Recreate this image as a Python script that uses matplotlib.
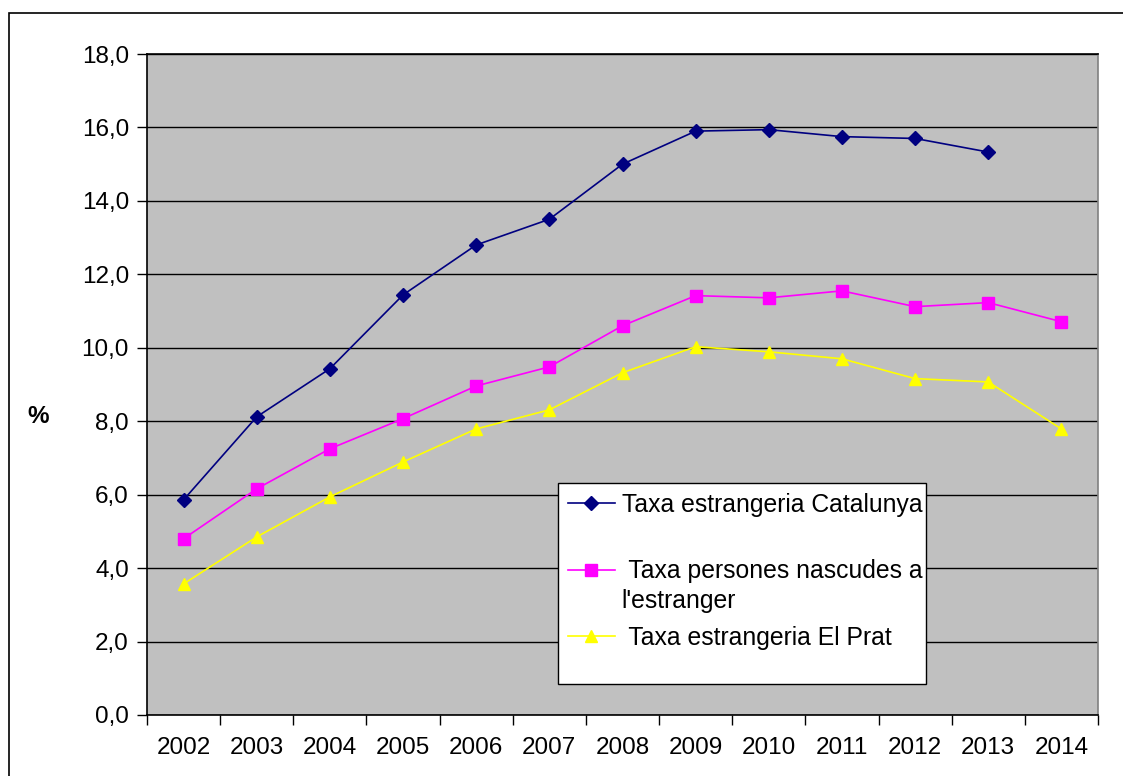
import numpy as np
import matplotlib.pyplot as plt
from matplotlib.patches import Rectangle
from matplotlib.ticker import FuncFormatter

plt.rcParams['font.family'] = ['Liberation Sans', 'DejaVu Sans']

years = ['2002', '2003', '2004', '2005', '2006', '2007', '2008',
         '2009', '2010', '2011', '2012', '2013', '2014']
catalunya = [5.86, 8.12, 9.43, 11.44, 12.80, 13.50, 15.00,
             15.90, 15.94, 15.75, 15.70, 15.33, np.nan]
nascudes = [4.80, 6.16, 7.25, 8.07, 8.96, 9.48, 10.60,
            11.42, 11.36, 11.55, 11.12, 11.23, 10.71]
elprat = [3.57, 4.85, 5.94, 6.89, 7.79, 8.31, 9.32,
          10.03, 9.89, 9.70, 9.16, 9.07, 7.79]
labels = ['Taxa estrangeria Catalunya',
          ' Taxa persones nascudes a',
          ' Taxa estrangeria El Prat']
label2_cont = "l'estranger"

fig = plt.figure(figsize=(11.23, 7.76), dpi=100)
ax = fig.add_axes([147 / 1123, 1 - 715 / 776, 951 / 1123, 661 / 776])

# outer frame, runs off the right and bottom edge like the original
fig.patches.append(Rectangle((9 / 1123, -0.1), 1.2, 1 - 13 / 776 + 0.1,
                             transform=fig.transFigure, fill=False,
                             edgecolor='black', linewidth=1.2))

x = np.arange(len(years))
ax.set_facecolor('#C0C0C0')
ax.plot(x, catalunya, color='#000080', marker='D', markersize=7, lw=1.2,
        label=labels[0])
ax.plot(x, nascudes, color='#FF00FF', marker='s', markersize=8, lw=1.2,
        label=labels[1])
ax.plot(x, elprat, color='#FFFF00', marker='^', markersize=9, lw=1.2,
        label=labels[2])

ax.set_xlim(-0.5, len(years) - 0.5)
ax.set_ylim(0, 18)
ax.set_yticks(np.arange(0, 18.1, 2))
ax.yaxis.set_major_formatter(FuncFormatter(lambda v, p: f'{v:.1f}'.replace('.', ',')))
ax.set_xticks(x)
ax.set_xticklabels(years)
ax.set_xticks(np.arange(-0.5, len(years), 1), minor=True)
ax.tick_params(axis='x', which='major', length=0, pad=16, labelsize=17.5)
ax.tick_params(axis='x', which='minor', length=7, width=1)
ax.tick_params(axis='y', length=7, width=1, pad=6, labelsize=17.5)
ax.grid(axis='y', color='black', lw=1)
ax.set_axisbelow(True)

for s in ['left', 'bottom', 'top']:
    ax.spines[s].set_color('black')
    ax.spines[s].set_linewidth(1.2)
ax.spines['right'].set_color('#808080')
ax.spines['right'].set_linewidth(1.2)

ax.set_ylabel('%', fontsize=17.5, fontweight='bold', rotation=0, labelpad=0)
ax.yaxis.label.set_va('center')
ax.yaxis.set_label_coords(-0.115, 0.451)

# legend box drawn separately so it can be taller than its entries
ax.add_patch(Rectangle((0.432, 0.047), 0.387, 0.304, transform=ax.transAxes,
                       facecolor='white', edgecolor='black', lw=1, zorder=4))
leg = ax.legend(loc='upper left', bbox_to_anchor=(0.432, 0.351),
                fontsize=17.8, frameon=False, borderaxespad=0,
                handlelength=1.9, handletextpad=0.28, labelspacing=1.72,
                borderpad=0.4)
leg.set_zorder(5)
ax.annotate(label2_cont, xy=(0, 0), xycoords=leg.get_texts()[1],
            xytext=(0, -6), textcoords='offset pixels', va='top', ha='left',
            fontsize=17.8, zorder=6)

fig.savefig('out.png', dpi=100)
